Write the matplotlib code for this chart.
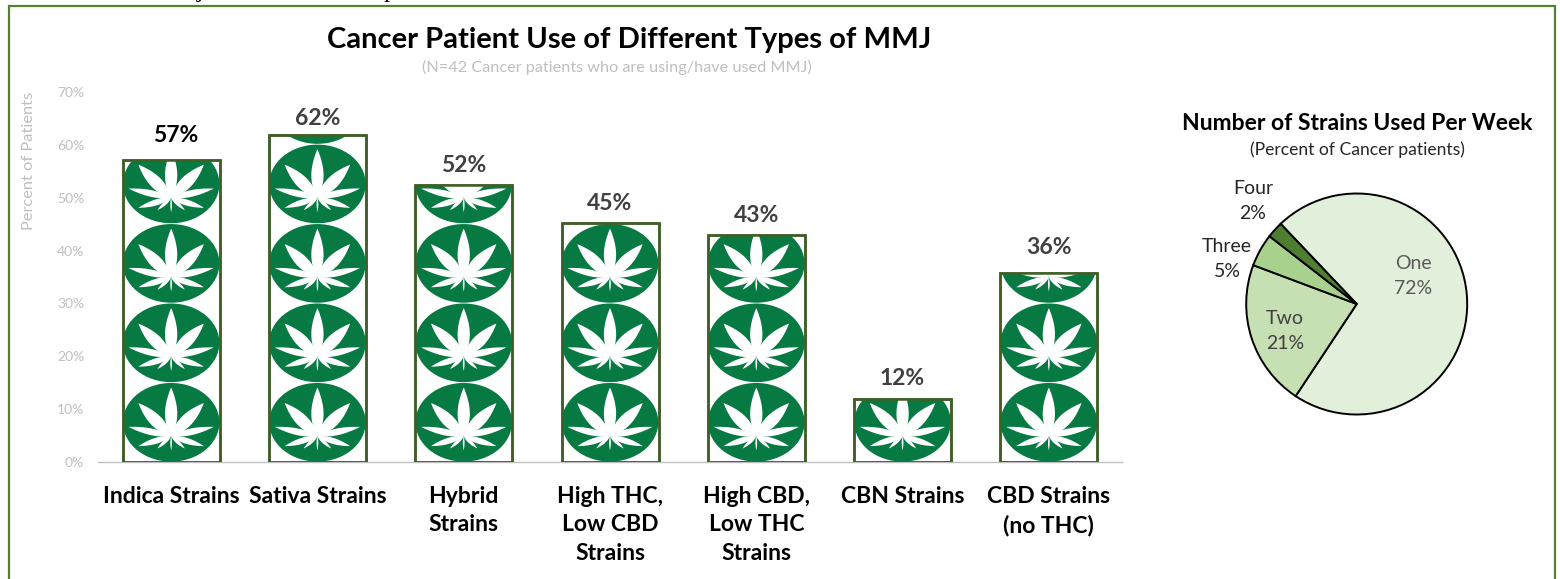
import matplotlib
matplotlib.use("Agg")
import numpy as np
import matplotlib.pyplot as plt
from matplotlib.patches import Ellipse, Polygon, Rectangle

plt.rcParams['font.family'] = ['Lato', 'DejaVu Sans']

categories = ["Indica Strains", "Sativa Strains", "Hybrid\nStrains", "High THC,\nLow CBD\nStrains",
              "High CBD,\nLow THC\nStrains", "CBN Strains", "CBD Strains\n(no THC)"]
use_pct = [57.1, 61.9, 52.4, 45.2, 42.9, 11.9, 35.7]
use_labels = ["57%", "62%", "52%", "45%", "43%", "12%", "36%"]
y_ticks = [0, 10, 20, 30, 40, 50, 60, 70]

pie_names = ["One", "Two", "Three", "Four"]
pie_vals = [71.4, 21.4, 4.8, 2.4]
pie_labels = ["72%", "21%", "5%", "2%"]

W, H = 1560, 579
fig = plt.figure(figsize=(W / 100, H / 100), dpi=100, facecolor='white')


def fx(p):
    return p / W


def fy(p):
    return 1 - p / H


# page frame and clipped text line above it
fig.add_artist(Rectangle((fx(8.5), fy(640)), fx(1555 - 8.5), fy(6) - fy(640), transform=fig.transFigure,
                         fill=False, edgecolor='#548235', lw=1.6))
fig.text(fx(197), fy(-2.5), "j", family='Liberation Serif', fontsize=18, color='black', va='baseline')
fig.text(fx(384), fy(-2.5), "p", family='Liberation Serif', fontsize=18, color='black', va='baseline')

# bar axes
ax = fig.add_axes([fx(98), fy(462), fx(1122 - 98), fy(92) - fy(462)])
ax.set_xlim(-0.5, 6.5)
ax.set_ylim(0, 70)
x = np.arange(len(categories))
bar_w = 97 / (1024 / 7)
TILE_H = 15.03
px_w = 285.0
px_h = 240.0
leaf_cy = 0.325
# leaflets: tip offset and half-width in the reference tile's own units
leaflets = [(0, 147, 18), (96, 100, 18), (-96, 100, 18), (125, 28, 10), (-125, 28, 10),
            (96, -30, 9), (-96, -30, 9), (40, -37, 5), (-40, -37, 5), (0, -43, 2.5)]
label_gaps = [25, 16, 20, 20, 20, 21, 26]


def leaflet_poly(tip_x, tip_y, hw):
    L = np.hypot(tip_x, tip_y)
    ux, uy = tip_x / L, tip_y / L
    t = np.linspace(0, 1, 24)
    w = hw * np.sin(np.pi * t ** 0.9) ** 0.9
    xs = np.r_[t * tip_x + w * -uy, (t * tip_x - w * -uy)[::-1]]
    ys = np.r_[t * tip_y + w * ux, (t * tip_y - w * ux)[::-1]]
    return np.c_[xs, ys]


bars = ax.bar(x, use_pct, width=bar_w, facecolor='white', edgecolor='#3f5f27', linewidth=1.8, zorder=3)
for xi, val, bar in zip(x, use_pct, bars):
    clip = Rectangle((xi - bar_w / 2, 0), bar_w, val, transform=ax.transData)
    n = int(np.ceil(val / TILE_H))
    for k in range(n):
        cy = (k + 0.5) * TILE_H
        e = Ellipse((xi, cy), bar_w * 0.995, TILE_H * 0.99, facecolor='#067a42', edgecolor='none', zorder=3.1)
        ax.add_patch(e)
        e.set_clip_path(clip)
        for tx, ty, hw in leaflets:
            pts = leaflet_poly(tx, ty, hw)
            pts = np.c_[xi + pts[:, 0] / px_w * bar_w, (k + leaf_cy) * TILE_H + pts[:, 1] / px_h * TILE_H]
            p = Polygon(pts, closed=True, facecolor='white', edgecolor='none', zorder=3.2)
            ax.add_patch(p)
            p.set_clip_path(clip)
    # re-stroke outline above the tiles
    ax.add_patch(Rectangle((xi - bar_w / 2, 0), bar_w, val, fill=False, edgecolor='#3f5f27', lw=1.8, zorder=3.5))

for i, (xi, val, lab, gap) in enumerate(zip(x, use_pct, use_labels, label_gaps)):
    ax.annotate(lab, (xi + (0.03 if i == 0 else 0), val), xytext=(0, gap * 0.72), textcoords='offset points',
                ha='center', va='center', fontsize=16.5, fontweight='bold',
                color='black' if i == 0 else '#404040')

ax.set_yticks(y_ticks)
ax.set_yticklabels([f"{t}%" for t in y_ticks], fontsize=10, color='#bfbfbf')
ax.set_xticks(x)
ax.set_xticklabels(categories, fontsize=16.5, fontweight='bold', color='black', linespacing=1.44, va='top')
ax.tick_params(axis='both', length=0)
ax.tick_params(axis='x', pad=17)
ax.tick_params(axis='y', pad=10)
for s in ['top', 'right', 'left']:
    ax.spines[s].set_visible(False)
ax.spines['bottom'].set_color('#bfbfbf')
ax.spines['bottom'].set_linewidth(1)

fig.text(fx(29), fy(161), "Percent of Patients", rotation=90, ha='center', va='center', fontsize=11.8, color='#bfbfbf')
fig.text(fx(629.5), fy(40), "Cancer Patient Use of Different Types of MMJ", ha='center', va='center',
         fontsize=21, fontweight='bold', color='black')
fig.text(fx(617), fy(67), "(N=42 Cancer patients who are using/have used MMJ)", ha='center', va='center',
         fontsize=11.7, color='#bfbfbf')

# pie
R = 110.5
cx, cy = 1356.7, 304
pax = fig.add_axes([fx(cx - R), fy(cy + R), fx(2 * R), fy(cy - R) - fy(cy + R)])
pie_colors = ['#e2efda', '#c6e0b4', '#a9d18e', '#4e7e32']
pax.pie(pie_vals, colors=pie_colors, startangle=133.5, counterclock=False, radius=1,
        wedgeprops=dict(edgecolor='black', linewidth=1.4))
pax.set_xlim(-1.0, 1.0)
pax.set_ylim(-1.0, 1.0)
pax.axis('off')
for w in pax.patches:
    w.set_clip_on(False)

pie_pos = [(1413, 276), (1285, 331), (1227, 259), (1253, 201)]
pie_text_colors = ['#595959', '#404040', '#262626', '#262626']
for name, lab, (px, py), col in zip(pie_names, pie_labels, pie_pos, pie_text_colors):
    fig.text(fx(px), fy(py), f"{name}\n{lab}", ha='center', va='center', fontsize=14, color=col, linespacing=1.6)

fig.text(fx(1357), fy(124), "Number of Strains Used Per Week", ha='center', va='center', fontsize=16.5,
         fontweight='bold', color='black')
fig.text(fx(1357), fy(150), "(Percent of Cancer patients)", ha='center', va='center', fontsize=12.6, color='#262626')

fig.savefig("out.png", dpi=100, facecolor='white')
